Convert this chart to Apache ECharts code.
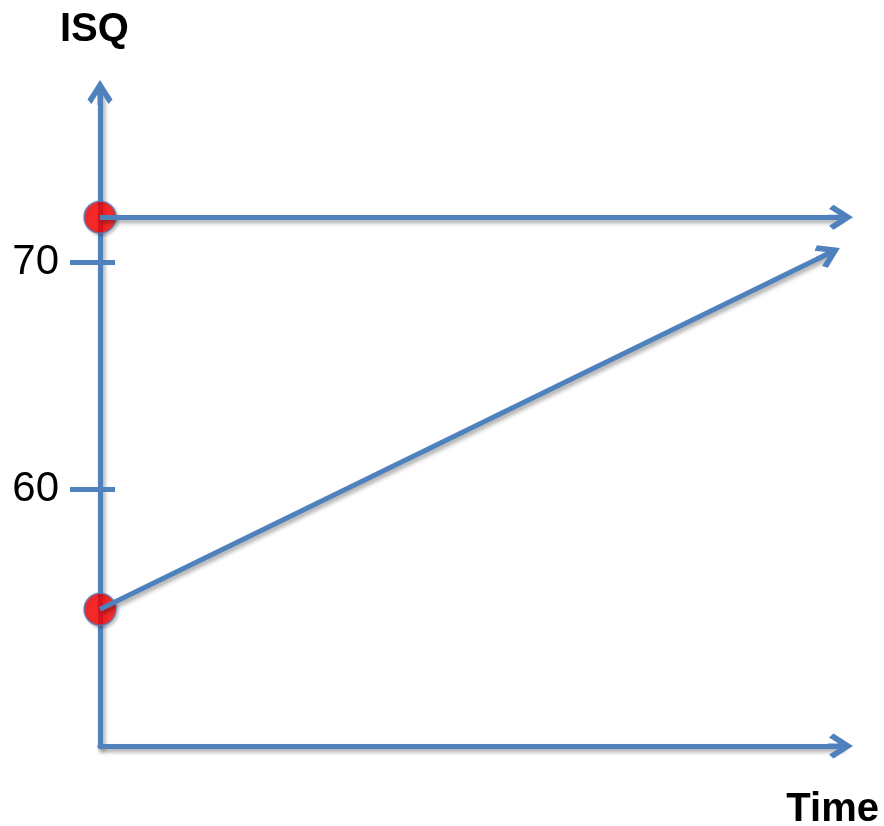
<!DOCTYPE html>
<html>
<head>
<meta charset="utf-8">
<script src="https://cdn.jsdelivr.net/npm/echarts@6/dist/echarts.min.js"></script>
<style>
  html, body { margin: 0; padding: 0; background: #ffffff; }
  #chart { width: 884px; height: 826px; }
</style>
</head>
<body>
<div id="chart"></div>
<script>
// ---- data ----
const yTitle = 'ISQ';
const xTitle = 'Time';
const yTickValues = [60, 70];
const yRange = [48.67, 77.5];
const xRange = [0, 100];
const startPoints = [[0, 72], [0, 54.7]];
const flatLine = [[0, 72], [100, 72]];
const risingLine = [[0, 54.7], [98.4, 70.4]];

// ---- styles ----
const BLUE = '#4f81bd';
const FONT = 'Liberation Sans, Arial, sans-serif';
// open chevron arrow pointing up, with a short shaft reaching the tip
const ARROW = 'path://M50,0 L100,78 L84,96 L50,42 L16,96 L0,78 Z M40,20 L60,20 L60,100 L40,100 Z';
const shadow = { shadowColor: 'rgba(0,0,0,0.35)', shadowBlur: 4, shadowOffsetX: 2, shadowOffsetY: 3 };

const chart = echarts.init(document.getElementById('chart'), null, { renderer: 'canvas' });

const option = {
  backgroundColor: '#ffffff',
  animation: false,
  title: [
    { text: yTitle, left: 60, top: 10, padding: 0,
      textStyle: { fontFamily: FONT, fontSize: 40, fontWeight: 'bold', color: '#000' } },
    { text: xTitle, right: 5, top: 790, padding: 0,
      textStyle: { fontFamily: FONT, fontSize: 40, fontWeight: 'bold', color: '#000' } }
  ],
  grid: { left: 100, right: 43.5, top: 92.5, bottom: 80, containLabel: false, outerBoundsMode: 'none' },
  xAxis: {
    type: 'value', min: xRange[0], max: xRange[1],
    axisLine: { show: true, onZero: false, symbol: ['none', ARROW], symbolSize: [25, 25],
      lineStyle: Object.assign({ color: BLUE, width: 5 }, shadow) },
    axisTick: { show: false }, axisLabel: { show: false }, splitLine: { show: false }
  },
  yAxis: [
    {
      type: 'value', min: yRange[0], max: yRange[1],
      axisLine: { show: true, onZero: false, symbol: ['none', ARROW], symbolSize: [25, 25],
        lineStyle: Object.assign({ color: BLUE, width: 5 }, shadow) },
      axisTick: { show: true, inside: false, length: 30, customValues: yTickValues,
        lineStyle: { color: BLUE, width: 5 } },
      axisLabel: { show: true, customValues: yTickValues, margin: 41,
        fontFamily: FONT, fontSize: 42, color: '#000' },
      splitLine: { show: false }
    },
    {
      type: 'value', min: yRange[0], max: yRange[1], position: 'left', offset: 0,
      axisLine: { show: false },
      axisTick: { show: true, inside: true, length: 15, customValues: yTickValues,
        lineStyle: { color: BLUE, width: 5 } },
      axisLabel: { show: false },
      splitLine: { show: false }
    }
  ],
  series: [
    {
      type: 'scatter', name: 'start', data: startPoints, z: 3, clip: false,
      symbol: 'circle', symbolSize: 32,
      itemStyle: { color: '#ff0000', borderColor: BLUE, borderWidth: 1.5,
        shadowColor: 'rgba(0,0,0,0.25)', shadowBlur: 3, shadowOffsetX: 2, shadowOffsetY: 2 }
    },
    {
      type: 'lines', coordinateSystem: 'cartesian2d', z: 4, clip: false,
      symbol: ['none', ARROW], symbolSize: 25,
      lineStyle: Object.assign({ color: BLUE, width: 5, opacity: 1, curveness: 0 }, shadow),
      data: [ { coords: flatLine }, { coords: risingLine } ]
    }
  ]
};

chart.setOption(option);
</script>
</body>
</html>
